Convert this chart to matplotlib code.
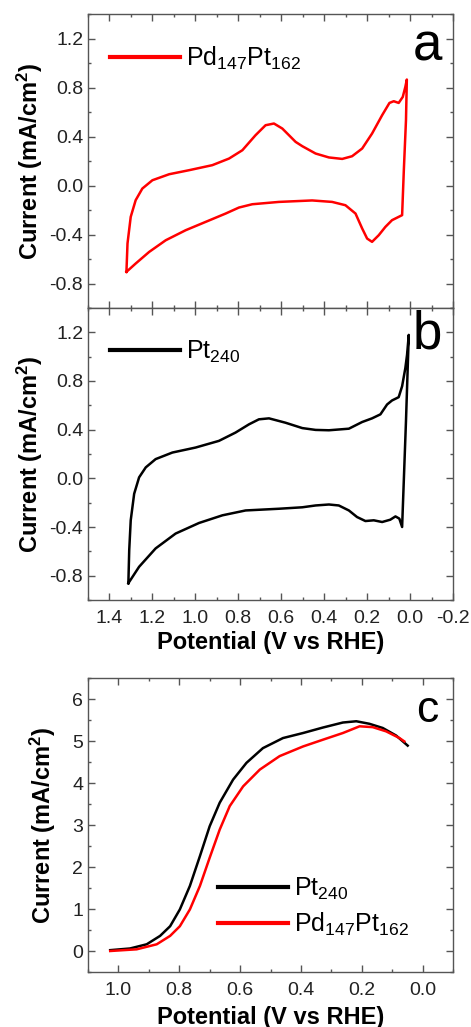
import matplotlib
matplotlib.use("Agg")
import matplotlib.pyplot as plt
from matplotlib.ticker import MultipleLocator, FormatStrFormatter

plt.rcParams['font.family'] = ['Liberation Sans', 'DejaVu Sans']
plt.rcParams['mathtext.fontset'] = 'custom'
plt.rcParams['mathtext.rm'] = 'Liberation Sans'
plt.rcParams['mathtext.it'] = 'Liberation Sans'
plt.rcParams['mathtext.bf'] = 'Liberation Sans:bold'

# panel a: Pd147Pt162 CV (closed loop, V vs RHE / mA cm-2)
cv_a_v = [1.321, 1.316, 1.301, 1.278, 1.247, 1.200, 1.122, 1.029, 0.921, 0.843, 0.781,
          0.720, 0.673, 0.634, 0.595, 0.533, 0.502, 0.440, 0.378, 0.316, 0.270, 0.223,
          0.177, 0.130, 0.096, 0.076, 0.053, 0.034, 0.022, 0.015,
          0.019, 0.029, 0.037, 0.053, 0.084, 0.115, 0.146, 0.177, 0.200, 0.223, 0.254,
          0.301, 0.363, 0.456, 0.611, 0.735, 0.797, 0.859, 0.952, 1.045, 1.138, 1.215,
          1.278, 1.321]
cv_a_i = [-0.705, -0.473, -0.256, -0.120, -0.025, 0.043, 0.092, 0.125, 0.166, 0.220, 0.288,
          0.410, 0.492, 0.506, 0.465, 0.356, 0.321, 0.261, 0.229, 0.217, 0.239, 0.302,
          0.424, 0.574, 0.674, 0.688, 0.674, 0.723, 0.805, 0.865,
          0.533, 0.125, -0.242, -0.256, -0.283, -0.338, -0.406, -0.460, -0.433, -0.351, -0.229,
          -0.161, -0.134, -0.122, -0.134, -0.153, -0.180, -0.229, -0.297, -0.365, -0.447, -0.542,
          -0.637, -0.705]

# panel b: Pt240 CV
cv_b_v = [1.312, 1.308, 1.301, 1.285, 1.262, 1.231, 1.185, 1.107, 0.999, 0.890, 0.813,
          0.750, 0.704, 0.657, 0.580, 0.502, 0.440, 0.378, 0.285, 0.223, 0.177, 0.138,
          0.107, 0.084, 0.053, 0.037, 0.022, 0.014, 0.006,
          0.019, 0.037, 0.050, 0.068, 0.092, 0.130, 0.169, 0.208, 0.247, 0.285, 0.332,
          0.378, 0.440, 0.502, 0.611, 0.766, 0.874, 0.983, 1.092, 1.185, 1.262, 1.312]
cv_b_i = [-0.862, -0.590, -0.345, -0.127, 0.008, 0.090, 0.158, 0.212, 0.253, 0.308, 0.376,
          0.444, 0.485, 0.493, 0.457, 0.413, 0.398, 0.395, 0.408, 0.463, 0.493, 0.526,
          0.607, 0.640, 0.667, 0.757, 0.906, 1.015, 1.179,
          0.471, -0.400, -0.331, -0.313, -0.340, -0.359, -0.345, -0.351, -0.318, -0.264, -0.223,
          -0.215, -0.223, -0.238, -0.250, -0.264, -0.304, -0.367, -0.454, -0.576, -0.727, -0.862]

# panel c: ORR polarisation curves
orr_pt_v = [1.027, 0.962, 0.907, 0.863, 0.830, 0.798, 0.765, 0.732, 0.700, 0.667, 0.623,
            0.579, 0.525, 0.459, 0.393, 0.328, 0.262, 0.218, 0.175, 0.131, 0.087, 0.049]
orr_pt_i = [0.02, 0.06, 0.16, 0.36, 0.59, 0.99, 1.55, 2.26, 2.97, 3.53, 4.08,
            4.48, 4.83, 5.07, 5.19, 5.32, 5.44, 5.47, 5.41, 5.31, 5.13, 4.89]
orr_pdpt_v = [1.027, 0.940, 0.874, 0.830, 0.798, 0.765, 0.732, 0.700, 0.667, 0.634, 0.590,
              0.535, 0.470, 0.393, 0.328, 0.262, 0.207, 0.164, 0.120, 0.076, 0.060]
orr_pdpt_i = [0.00, 0.04, 0.16, 0.36, 0.59, 0.99, 1.55, 2.22, 2.89, 3.45, 3.92,
              4.32, 4.64, 4.87, 5.03, 5.19, 5.35, 5.33, 5.23, 5.07, 4.99]

lbl_pdpt = r'Pd$_{147}$Pt$_{162}$'
lbl_pt = r'Pt$_{240}$'
ylab = r'Current (mA/cm$^\mathbf{2}$)'
xlab = 'Potential (V vs RHE)'

W, H = 471, 1027
fig = plt.figure(figsize=(W / 100, H / 100), dpi=100)

def px_axes(left, top, right, bottom):  # pixel box -> figure fraction axes
    return fig.add_axes([left / W, 1 - bottom / H, (right - left) / W, (bottom - top) / H])

ax_a = px_axes(88, 14, 453, 308)
ax_b = px_axes(88, 308, 453, 600)
ax_c = px_axes(88, 678, 453, 972)

def style(ax):
    for s in ax.spines.values():
        s.set_color('#555555')
        s.set_linewidth(1.0)
    ax.tick_params(which='both', direction='in', top=True, right=True, colors='#555555',
                   labelcolor='#222222', labelsize=14, width=1.0)
    ax.tick_params(which='major', length=5)
    ax.tick_params(which='minor', length=2.5)
    ax.tick_params(axis='x', pad=7)

for ax in (ax_a, ax_b):
    style(ax)
    ax.set_xlim(1.5, -0.2)
    ax.set_ylim(-1.0, 1.4)
    ax.xaxis.set_major_locator(MultipleLocator(0.2))
    ax.xaxis.set_minor_locator(MultipleLocator(0.1))
    ax.yaxis.set_major_locator(MultipleLocator(0.4))
    ax.yaxis.set_minor_locator(MultipleLocator(0.2))
    ax.yaxis.set_major_formatter(FormatStrFormatter('%.1f'))
    ax.set_ylabel(ylab, fontsize=17, fontweight='bold', labelpad=3)

ax_a.tick_params(labelbottom=False)
ax_b.xaxis.set_major_formatter(FormatStrFormatter('%.1f'))
ax_b.set_xlabel(xlab, fontsize=17, fontweight='bold', labelpad=3)

ax_a.plot(cv_a_v, cv_a_i, color='#ff0000', lw=1.8, label=lbl_pdpt, solid_joinstyle='round')
ax_b.plot(cv_b_v, cv_b_i, color='#000000', lw=1.8, label=lbl_pt, solid_joinstyle='round')

for ax in (ax_a, ax_b):
    leg = ax.legend(loc='center left', bbox_to_anchor=(0.06, 0.85), frameon=False,
                    fontsize=18, handlelength=2.8, handletextpad=0.25, borderpad=0,
                    borderaxespad=0)
    for h in leg.get_lines():
        h.set_linewidth(3)

ax_a.text(0.93, 0.89, 'a', transform=ax_a.transAxes, fontsize=38, ha='center', va='center')
ax_b.text(0.93, 0.91, 'b', transform=ax_b.transAxes, fontsize=38, ha='center', va='center')

style(ax_c)
ax_c.set_xlim(1.1, -0.1)
ax_c.set_ylim(-0.5, 6.5)
ax_c.xaxis.set_major_locator(MultipleLocator(0.2))
ax_c.xaxis.set_minor_locator(MultipleLocator(0.1))
ax_c.yaxis.set_major_locator(MultipleLocator(1))
ax_c.yaxis.set_minor_locator(MultipleLocator(0.5))
ax_c.xaxis.set_major_formatter(FormatStrFormatter('%.1f'))
ax_c.plot(orr_pt_v, orr_pt_i, color='#000000', lw=1.8, label=lbl_pt, solid_joinstyle='round')
ax_c.plot(orr_pdpt_v, orr_pdpt_i, color='#ff0000', lw=1.8, label=lbl_pdpt, solid_joinstyle='round')
ax_c.set_ylabel(ylab, fontsize=17, fontweight='bold', labelpad=10)
ax_c.set_xlabel(xlab, fontsize=17, fontweight='bold', labelpad=5)
leg = ax_c.legend(loc='center left', bbox_to_anchor=(0.356, 0.221), frameon=False,
                  fontsize=18, handlelength=2.8, handletextpad=0.25, borderpad=0,
                  borderaxespad=0, labelspacing=0.35)
for h in leg.get_lines():
    h.set_linewidth(3)
ax_c.text(0.93, 0.89, 'c', transform=ax_c.transAxes, fontsize=32, ha='center', va='center')

fig.savefig('out.png', dpi=100)
